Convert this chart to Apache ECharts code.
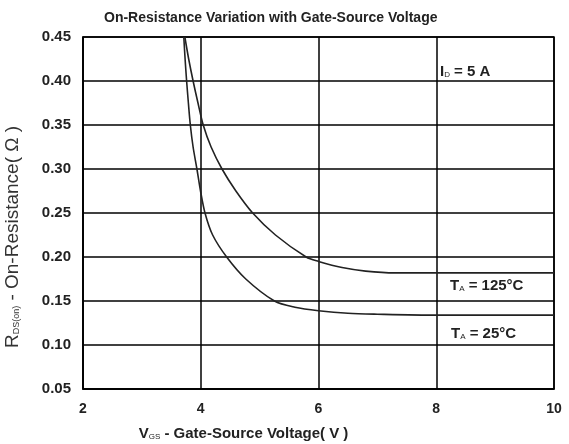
<!DOCTYPE html>
<html><head><meta charset="utf-8">
<script src="https://cdn.jsdelivr.net/npm/echarts@6/dist/echarts.min.js"></script>
<style>html,body{margin:0;padding:0;background:#fff}#c{width:569px;height:444px}</style>
</head><body><div id="c"></div>
<script>
var title = 'On-Resistance Variation with Gate-Source Voltage';
var xTicks = [2, 4, 6, 8, 10];
var yTicks = [0.05, 0.10, 0.15, 0.20, 0.25, 0.30, 0.35, 0.40, 0.45];
var vgs25 = [3.712, 3.734, 3.760, 3.790, 3.823, 3.870, 3.935, 3.996, 4.072, 4.202, 4.440, 4.765, 5.252, 5.6, 6.0, 6.5, 7.0, 8.0, 9.0, 10.0];
var rds25 = [0.45, 0.425, 0.40, 0.375, 0.35, 0.325, 0.30, 0.275, 0.25, 0.225, 0.20, 0.175, 0.15, 0.143, 0.139, 0.136, 0.135, 0.134, 0.134, 0.134];
var vgs125 = [3.730, 3.795, 3.870, 3.953, 4.042, 4.176, 4.361, 4.597, 4.882, 5.269, 5.790, 6.0, 6.4, 6.8, 7.3, 8.0, 9.0, 10.0];
var rds125 = [0.45, 0.425, 0.40, 0.375, 0.35, 0.325, 0.30, 0.275, 0.25, 0.225, 0.20, 0.195, 0.188, 0.184, 0.182, 0.182, 0.182, 0.182];

function pairs(xs, ys){ return xs.map(function(x,i){ return [x, ys[i]]; }); }
var FONT = '"Liberation Sans", Arial, sans-serif';
var chart = echarts.init(document.getElementById('c'), null, {renderer:'canvas'});
chart.setOption({
  animation:false,
  backgroundColor:'#fff',
  title:{text:title, left:99, top:6, textStyle:{fontFamily:FONT, fontSize:14, fontWeight:'bold', color:'#222'}},
  grid:{left:83, right:15, top:37, bottom:55, show:true, borderColor:'#000', borderWidth:1.5, outerBoundsMode:'none'},
  xAxis:{type:'value', min:xTicks[0], max:xTicks[xTicks.length-1], interval:2,
    axisLine:{lineStyle:{color:'#000', width:1.5}}, axisTick:{show:false},
    splitLine:{show:true, lineStyle:{color:'#000', width:1.5}},
    axisLabel:{fontFamily:FONT, fontSize:14, fontWeight:'bold', color:'#222', margin:13},
    name:'{s|V}{sub|GS}{s| - Gate-Source Voltage( V )}', nameLocation:'middle', nameGap:37,
    nameTextStyle:{padding:[0,150,0,0], rich:{s:{fontFamily:FONT, fontSize:15, fontWeight:'bold', color:'#222'}, sub:{fontFamily:FONT, fontSize:8, color:'#222', padding:[7,0,0,0]}}}
  },
  yAxis:{type:'value', min:yTicks[0], max:yTicks[yTicks.length-1], interval:0.05,
    axisLine:{lineStyle:{color:'#000', width:1.5}}, axisTick:{show:false},
    splitLine:{show:true, lineStyle:{color:'#000', width:1.5}},
    axisLabel:{fontFamily:FONT, fontSize:15, fontWeight:'bold', color:'#222', margin:12, formatter:function(v){return v.toFixed(2);}},
    name:'{s|R}{sub|DS(on)}{s| - On-Resistance( Ω )}', nameLocation:'middle', nameGap:61, nameRotate:90,
    nameTextStyle:{padding:[0,0,0,-48], rich:{s:{fontFamily:FONT, fontSize:19, color:'#333'}, sub:{fontFamily:FONT, fontSize:9, color:'#333', padding:[9,0,0,0]}}}
  },
  series:[
    {type:'line', name:'TA = 25°C', data:pairs(vgs25, rds25), smooth:0.3, showSymbol:false, lineStyle:{color:'#222', width:1.6}},
    {type:'line', name:'TA = 125°C', data:pairs(vgs125, rds125), smooth:0.3, showSymbol:false, lineStyle:{color:'#222', width:1.6}}
  ],
  graphic:[
    {type:'text', left:440, top:64, style:{text:'{s|I}{sub|D}{s| = 5 A}', rich:{s:{fontFamily:FONT, fontSize:15, fontWeight:'bold', fill:'#222'}, sub:{fontFamily:FONT, fontSize:8, fill:'#222', padding:[7,0,0,0]}}}},
    {type:'text', left:450, top:278, style:{text:'{s|T}{sub|A}{s| = 125°C}', rich:{s:{fontFamily:FONT, fontSize:15, fontWeight:'bold', fill:'#222'}, sub:{fontFamily:FONT, fontSize:8, fill:'#222', padding:[7,0,0,0]}}}},
    {type:'text', left:451, top:326, style:{text:'{s|T}{sub|A}{s| = 25°C}', rich:{s:{fontFamily:FONT, fontSize:15, fontWeight:'bold', fill:'#222'}, sub:{fontFamily:FONT, fontSize:8, fill:'#222', padding:[7,0,0,0]}}}}
  ]
});
</script></body></html>
